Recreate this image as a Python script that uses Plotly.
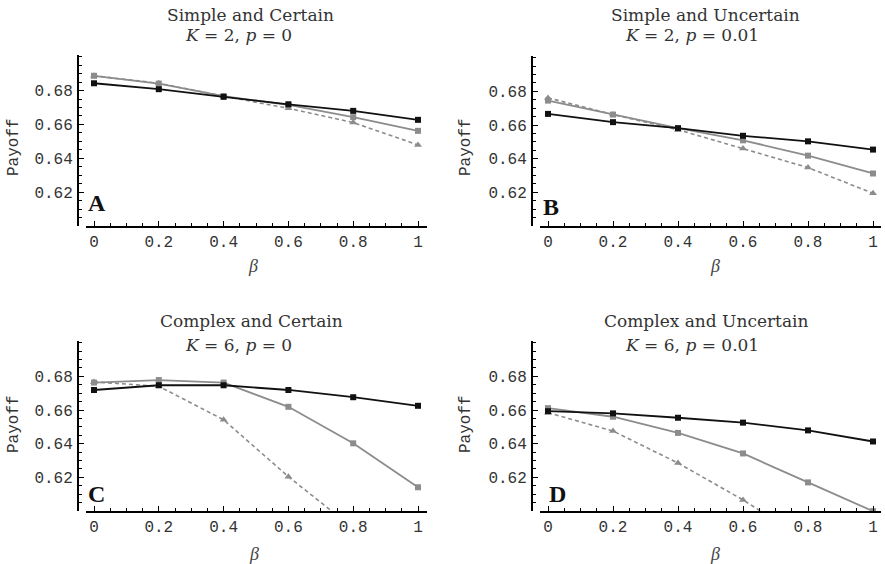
import plotly.graph_objects as go

beta = [0, 0.2, 0.4, 0.6, 0.8, 1.0]

# Panel A: Simple and Certain (K=2, p=0)
a_black = [0.6843, 0.6808, 0.6763, 0.6719, 0.6680, 0.6627]
a_gray_sq = [0.6887, 0.6841, 0.6767, 0.6715, 0.6643, 0.6562]
a_gray_tri = [0.6887, 0.6843, 0.6767, 0.6695, 0.6611, 0.6479]
# Panel B: Simple and Uncertain (K=2, p=0.01)
b_black = [0.6666, 0.6617, 0.6581, 0.6536, 0.6503, 0.6454]
b_gray_sq = [0.6745, 0.6662, 0.6581, 0.6509, 0.6418, 0.6312]
b_gray_tri = [0.6761, 0.6662, 0.6572, 0.6461, 0.6347, 0.6194]
# Panel C: Complex and Certain (K=6, p=0)
c_black = [0.6719, 0.6747, 0.6747, 0.6719, 0.6676, 0.6625]
c_gray_sq = [0.6763, 0.6778, 0.6763, 0.6619, 0.6402, 0.6141]
c_gray_tri = [0.6767, 0.6741, 0.6542, 0.6204, 0.5898, 0.5550]
# Panel D: Complex and Uncertain (K=6, p=0.01)
d_black = [0.6593, 0.6580, 0.6554, 0.6525, 0.6479, 0.6413]
d_gray_sq = [0.6611, 0.6560, 0.6464, 0.6342, 0.6170, 0.5999]
d_gray_tri = [0.6584, 0.6475, 0.6285, 0.6066, 0.5820, 0.5550]

titles1 = ["Simple and Certain", "Simple and Uncertain", "Complex and Certain", "Complex and Uncertain"]
titles2 = ["<i>K</i> = 2, <i>p</i> = 0", "<i>K</i> = 2, <i>p</i> = 0.01",
           "<i>K</i> = 6, <i>p</i> = 0", "<i>K</i> = 6, <i>p</i> = 0.01"]
panel_letters = ["A", "B", "C", "D"]

xticks = [0, 0.2, 0.4, 0.6, 0.8, 1.0]
xticktext = ["0", "0.2", "0.4", "0.6", "0.8", "1"]
yticks = [0.62, 0.64, 0.66, 0.68]
yticktext = ["0.62", "0.64", "0.66", "0.68"]

W, H = 885, 564
BLACK = "#111111"
GRAY = "#8c8c8c"

data = [
    (a_black, a_gray_sq, a_gray_tri),
    (b_black, b_gray_sq, b_gray_tri),
    (c_black, c_gray_sq, c_gray_tri),
    (d_black, d_gray_sq, d_gray_tri),
]

# pixel layout per panel: yaxis x, xdomain (l, r), x0 px, x1 px, ytop, ybottom
layouts = [
    dict(yx=78, xl=86, xr=427, x0=94, x1=418, yt=55, yb=226),
    dict(yx=532, xl=540, xr=881, x0=548, x1=873, yt=56, yb=226),
    dict(yx=78, xl=86, xr=427, x0=94, x1=418, yt=341, yb=511),
    dict(yx=532, xl=540, xr=881, x0=548, x1=873, yt=341, yb=511),
]
# annotation positions (px)
title_pos = [((250, 15), (238, 35)), ((705, 15), (692, 35)),
             ((251, 321), (238, 345)), ((706, 321), (692, 345))]
letter_pos = [(86, 213), (541, 217), (86, 504), (547, 504)]
payoff_pos = [(14, 147), (466, 147), (14, 424), (466, 424)]
beta_pos = [(253, 266), (715, 266), (254, 554), (715, 554)]

fig = go.Figure()
annotations = []

for i, (blk, gsq, gtri) in enumerate(data):
    L = layouts[i]
    xn = "x" if i == 0 else f"x{i+1}"
    yn = "y" if i == 0 else f"y{i+1}"
    xa = "xaxis" if i == 0 else f"xaxis{i+1}"
    ya = "yaxis" if i == 0 else f"yaxis{i+1}"
    fig.add_trace(go.Scatter(x=beta, y=gtri, mode="lines+markers", xaxis=xn, yaxis=yn,
                             line=dict(color=GRAY, width=1.6, dash="4px,3px"),
                             marker=dict(symbol="triangle-up", size=7, color=GRAY),
                             showlegend=False, cliponaxis=True))
    fig.add_trace(go.Scatter(x=beta, y=gsq, mode="lines+markers", xaxis=xn, yaxis=yn,
                             line=dict(color=GRAY, width=1.8),
                             marker=dict(symbol="square", size=6, color=GRAY),
                             showlegend=False, cliponaxis=True))
    fig.add_trace(go.Scatter(x=beta, y=blk, mode="lines+markers", xaxis=xn, yaxis=yn,
                             line=dict(color=BLACK, width=1.8),
                             marker=dict(symbol="square", size=6, color=BLACK),
                             showlegend=False, cliponaxis=True))
    ppu = (L["x1"] - L["x0"])
    xr0 = -(L["x0"] - L["xl"]) / ppu
    xr1 = 1 + (L["xr"] - L["x1"]) / ppu
    fig.layout[xa] = dict(domain=[L["xl"] / W, L["xr"] / W], range=[xr0, xr1], anchor=yn,
                          showline=True, linecolor="black", linewidth=2, showgrid=False,
                          zeroline=False, tickmode="array", tickvals=xticks, ticktext=xticktext,
                          ticks="inside", ticklen=5, tickcolor="black", tickwidth=1,
                          ticklabelstandoff=0,
                          minor=dict(tickmode="linear", tick0=0, dtick=0.05, ticks="inside",
                                     ticklen=3, tickcolor="black", tickwidth=1),
                          tickfont=dict(family="Liberation Mono", size=16, color="#333333"))
    fig.layout[ya] = dict(domain=[1 - L["yb"] / H, 1 - L["yt"] / H], range=[0.6, 0.701],
                          anchor="free", position=L["yx"] / W,
                          showline=True, linecolor="black", linewidth=2, showgrid=False,
                          zeroline=False, tickmode="array", tickvals=yticks, ticktext=yticktext,
                          ticks="inside", ticklen=5, tickcolor="black", tickwidth=1,
                          ticklabelstandoff=1,
                          minor=dict(tickmode="linear", tick0=0.6, dtick=0.005, ticks="inside",
                                     ticklen=3, tickcolor="black", tickwidth=1),
                          tickfont=dict(family="Liberation Mono", size=16, color="#333333"))
    (t1x, t1y), (t2x, t2y) = title_pos[i]
    annotations.append(dict(x=t1x / W, y=1 - t1y / H, xref="paper", yref="paper", text=titles1[i],
                            showarrow=False, xanchor="center", yanchor="middle",
                            font=dict(family="DejaVu Serif", size=17, color="#333333")))
    annotations.append(dict(x=t2x / W, y=1 - t2y / H, xref="paper", yref="paper", text=titles2[i],
                            showarrow=False, xanchor="center", yanchor="middle",
                            font=dict(family="DejaVu Serif", size=17, color="#333333")))
    lx, ly = letter_pos[i]
    annotations.append(dict(x=lx / W, y=1 - ly / H, xref="paper", yref="paper",
                            text=f"<b>{panel_letters[i]}</b>", showarrow=False,
                            xanchor="left", yanchor="bottom", yshift=-5,
                            font=dict(family="Liberation Serif", size=24, color="#111111")))
    px_, py_ = payoff_pos[i]
    annotations.append(dict(x=px_ / W, y=1 - py_ / H, xref="paper", yref="paper", text="Payoff",
                            showarrow=False, textangle=-90, xanchor="center", yanchor="middle",
                            font=dict(family="Liberation Mono", size=16, color="#333333")))
    bx, by = beta_pos[i]
    annotations.append(dict(x=bx / W, y=1 - by / H, xref="paper", yref="paper", text="<i>β</i>",
                            showarrow=False, xanchor="center", yanchor="middle",
                            font=dict(family="Liberation Serif", size=18, color="#444444")))

fig.update_layout(width=W, height=H, margin=dict(l=0, r=0, t=0, b=0),
                  paper_bgcolor="white", plot_bgcolor="white",
                  annotations=annotations, showlegend=False)
fig.write_html("out.html", config={"displayModeBar": False},
               post_script="document.body.style.margin='0';document.body.style.padding='0';"
                           "document.documentElement.style.overflow='hidden';")
